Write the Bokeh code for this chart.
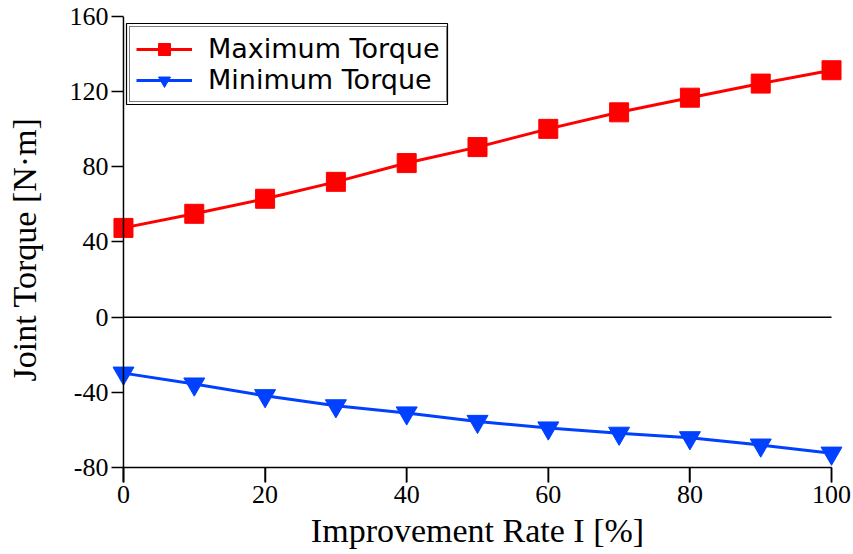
from bokeh.plotting import figure
from bokeh.models import Range1d, Legend, LegendItem, FixedTicker, Span, BoxAnnotation
from bokeh.embed import file_html
from bokeh.resources import INLINE

rate = [0, 10, 20, 30, 40, 50, 60, 70, 80, 90, 100]
max_torque = [47.5, 55.0, 63.0, 72.0, 82.0, 90.5, 100.2, 109.0, 116.8, 124.3, 131.4]
min_torque = [-29.8, -35.6, -41.8, -47.2, -51.0, -55.5, -59.0, -61.8, -64.2, -68.1, -72.4]
x_ticks = [0, 20, 40, 60, 80, 100]
y_ticks = [-80, -40, 0, 40, 80, 120, 160]

serif = "Liberation Serif"

# the frame reaches a little below -80 so the x ticks can hang below the x axis line
p = figure(width=853, height=554, output_backend="svg", toolbar_location=None,
           x_range=Range1d(-1.55, 101.55), y_range=Range1d(-88, 160),
           min_border_left=112, min_border_right=11, min_border_top=16, min_border_bottom=72)

p.xgrid.visible = False
p.ygrid.visible = False
p.outline_line_color = None
p.background_fill_color = "white"
p.border_fill_color = "white"

# y axis line at x = 0, x axis line at y = -80, and the zero line
p.add_layout(Span(location=rate[0], dimension="height", line_color="black", line_width=1.5))
p.line([rate[0], rate[-1]], [y_ticks[0], y_ticks[0]], line_color="black", line_width=1.5)
p.line([rate[0], rate[-1]], [0, 0], line_color="black", line_width=1.5)
# x tick marks hanging below the x axis line
p.segment(x0=x_ticks, y0=[y_ticks[0]] * len(x_ticks), x1=x_ticks,
          y1=[p.y_range.start] * len(x_ticks), line_color="black", line_width=1.5)

r1 = p.line(rate, max_torque, line_color="#ff0000", line_width=3)
s1 = p.scatter(rate, max_torque, marker="square", size=19, fill_color="#ff0000", line_color="#ff0000")
r2 = p.line(rate, min_torque, line_color="#0040ff", line_width=3)
s2 = p.scatter(rate, min_torque, marker="inverted_triangle", size=21, fill_color="#0040ff", line_color="#0040ff")

p.axis.axis_line_color = None
p.axis.minor_tick_line_color = None
p.axis.major_label_text_font = serif
p.axis.major_label_text_color = "black"
p.axis.major_label_text_font_size = "26px"
p.axis.axis_label_text_font = serif
p.axis.axis_label_text_font_size = "34px"
p.axis.axis_label_text_font_style = "normal"
p.axis.axis_label_text_color = "black"

p.xaxis.ticker = FixedTicker(ticks=x_ticks)
p.yaxis.ticker = FixedTicker(ticks=y_ticks)
p.yaxis.major_label_overrides = {t: str(t) for t in y_ticks}
p.xaxis.major_tick_out = 0
p.xaxis.major_tick_in = 15
p.xaxis.major_tick_line_color = "#000000"
p.xaxis.major_tick_line_width = 1.5
p.xaxis.major_label_standoff = 3
p.yaxis.major_tick_out = 1
p.yaxis.major_tick_in = 11
p.yaxis.major_tick_line_color = "#000000"
p.yaxis.major_tick_line_width = 1.5
p.yaxis.major_label_standoff = 3
p.xaxis.axis_label = "Improvement Rate I [%]"
p.yaxis.axis_label = "Joint Torque [N·m]"
p.xaxis.axis_label_standoff = 6
p.yaxis.axis_label_standoff = 24

# outer line of the legend's double frame
p.add_layout(BoxAnnotation(left=14, right=335, top=459, bottom=378,
                           left_units="screen", right_units="screen",
                           top_units="screen", bottom_units="screen",
                           fill_alpha=0, line_color="black", line_width=1.2, line_alpha=1))

legend = Legend(items=[LegendItem(label="Maximum Torque", renderers=[r1, s1]),
                       LegendItem(label="Minimum Torque", renderers=[r2, s2])],
                location=(17, 380), margin=0,
                label_text_font="DejaVu Sans", label_text_font_size="27px",
                label_text_color="black",
                glyph_width=56, glyph_height=30, label_standoff=16, spacing=0,
                padding=6, border_line_color="black", border_line_width=1.5,
                background_fill_color="white", background_fill_alpha=1)
p.add_layout(legend)

out = file_html(p, INLINE)
open("out.html", "w").write(out)
